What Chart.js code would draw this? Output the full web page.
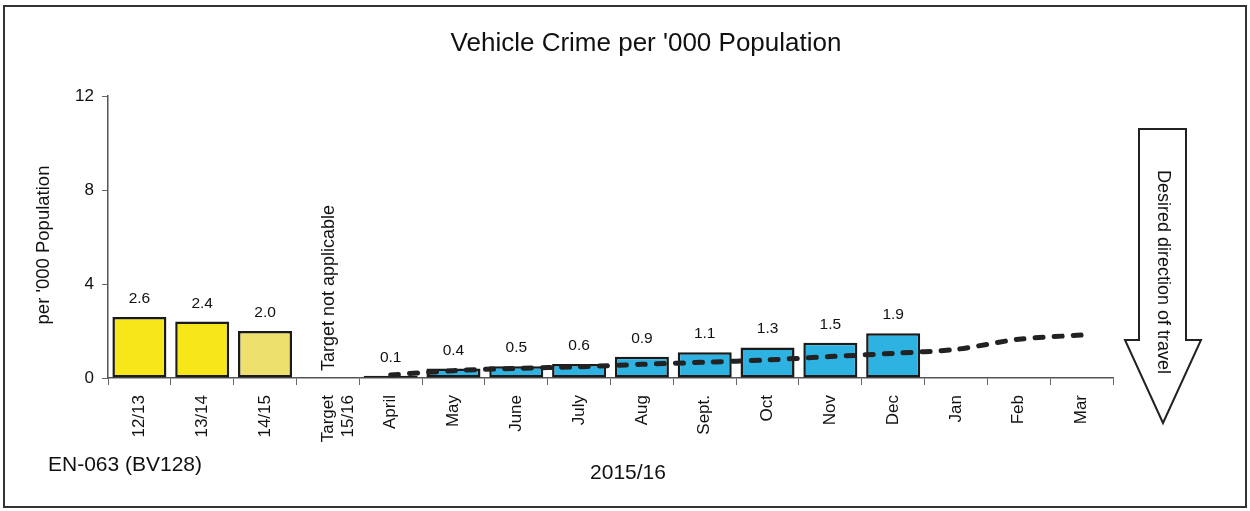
<!DOCTYPE html>
<html>
<head>
<meta charset="utf-8">
<script src="https://cdn.jsdelivr.net/npm/chart.js@4"></script>
<style>
  html, body { margin: 0; padding: 0; background: #fff; }
  #wrap { width: 1250px; height: 511px; position: relative; }
</style>
</head>
<body>
<div id="wrap"><canvas id="chart-1"></canvas></div>
<script>
const categories = [["12/13"], ["13/14"], ["14/15"], ["Target", "15/16"], "April", "May", "June", "July", "Aug", "Sept.", "Oct", "Nov", "Dec", "Jan", "Feb", "Mar"];
const actual = [2.6, 2.4, 2.0, null, 0.1, 0.4, 0.5, 0.6, 0.9, 1.1, 1.3, 1.5, 1.9, null, null, null];
const target = [null, null, null, null, 0.13, 0.31, 0.41, 0.48, 0.58, 0.67, 0.77, 0.91, 1.05, 1.22, 1.65, 1.83];
const yTicks = [0, 4, 8, 12];

const FONT = "'Liberation Sans', Arial, sans-serif";
const barColours = ["#f6e61a", "#f6e61a", "#eee06c", "#ffffff",
  "#2eb2e2", "#2eb2e2", "#2eb2e2", "#2eb2e2", "#2eb2e2", "#2eb2e2", "#2eb2e2", "#2eb2e2", "#2eb2e2",
  "#2eb2e2", "#2eb2e2", "#2eb2e2"];

// text, frame and arrow around the plot
const extras = {
  id: "extras",
  afterDatasetsDraw(chart) {
    const c = chart.ctx;
    const bars = chart.getDatasetMeta(1);
    c.save();
    c.fillStyle = "#111";
    c.font = "15.5px " + FONT;
    c.textAlign = "center";
    c.textBaseline = "alphabetic";
    bars.data.forEach((el, i) => {
      if (actual[i] == null) return;
      c.fillText(actual[i].toFixed(1), el.x, el.y - 14);
    });
    c.restore();
  },
  afterDraw(chart) {
    const c = chart.ctx;
    c.save();
    // outer frame
    c.strokeStyle = "#333";
    c.lineWidth = 2;
    c.strokeRect(4, 6, 1242, 501);

    c.fillStyle = "#111";
    c.font = "26px " + FONT;
    c.textAlign = "center";
    c.textBaseline = "middle";
    c.fillText("Vehicle Crime per '000 Population", 646, 44);

    c.font = "21px " + FONT;
    c.fillText("EN-063 (BV128)", 125, 465);
    c.fillText("2015/16", 628, 473);

    // y axis title
    c.save();
    c.translate(44, 245);
    c.rotate(-Math.PI / 2);
    c.font = "18.5px " + FONT;
    c.fillText("per '000 Population", 0, 0);
    c.restore();

    // note in the target column
    const xs = chart.scales.x;
    c.save();
    c.translate(xs.getPixelForValue(3) + 1, 288);
    c.rotate(-Math.PI / 2);
    c.font = "18px " + FONT;
    c.fillText("Target not applicable", 0, 0);
    c.restore();

    // direction arrow
    c.beginPath();
    c.moveTo(1139, 129);
    c.lineTo(1186, 129);
    c.lineTo(1186, 340);
    c.lineTo(1201, 340);
    c.lineTo(1163, 423);
    c.lineTo(1125, 340);
    c.lineTo(1139, 340);
    c.closePath();
    c.fillStyle = "#fff";
    c.fill();
    c.strokeStyle = "#222";
    c.lineWidth = 2;
    c.stroke();
    c.save();
    c.translate(1163, 272);
    c.rotate(Math.PI / 2);
    c.fillStyle = "#111";
    c.font = "18px " + FONT;
    c.fillText("Desired direction of travel", 0, 0);
    c.restore();
    c.restore();
  }
};

new Chart(document.getElementById("chart-1"), {
  data: {
    labels: categories,
    datasets: [
      {
        type: "line",
        label: "Target",
        data: target,
        borderColor: "#222",
        borderWidth: 5,
        borderDash: [8, 11],
        borderCapStyle: "round",
        pointRadius: 0,
        tension: 0.3,
        fill: false,
        order: 0,
      },
      {
        type: "bar",
        label: "Actual",
        data: actual,
        backgroundColor: barColours,
        borderColor: "#1a1a1a",
        borderWidth: 2.5,
        borderSkipped: false,
        categoryPercentage: 1,
        barPercentage: 0.86,
        order: 1,
      },
    ],
  },
  options: {
    responsive: true,
    maintainAspectRatio: false,
    animation: false,
    layout: { padding: { left: 0, top: 96, right: 137, bottom: 0 } },
    plugins: {
      legend: { display: false },
      tooltip: { enabled: false },
    },
    scales: {
      x: {
        offset: true,
        grid: { offset: true, drawOnChartArea: false, drawTicks: true, tickLength: 7, color: "#666" },
        border: { display: true, color: "#555", width: 1.5 },
        ticks: {
          color: "#111",
          font: { family: FONT, size: 17 },
          minRotation: 90,
          maxRotation: 90,
          autoSkip: false,
          padding: 10,
        },
        afterFit(scale) { scale.height = 133; },
      },
      y: {
        min: 0,
        max: 12,
        afterBuildTicks(scale) { scale.ticks = yTicks.map(v => ({ value: v })); },
        grid: { drawOnChartArea: false, drawTicks: true, tickLength: 6, color: "#666" },
        border: { display: true, color: "#555", width: 1.5 },
        ticks: { color: "#111", font: { family: FONT, size: 17 }, padding: 8 },
        afterFit(scale) { scale.width = 108; },
      },
    },
  },
  plugins: [extras],
});
</script>
</body>
</html>
